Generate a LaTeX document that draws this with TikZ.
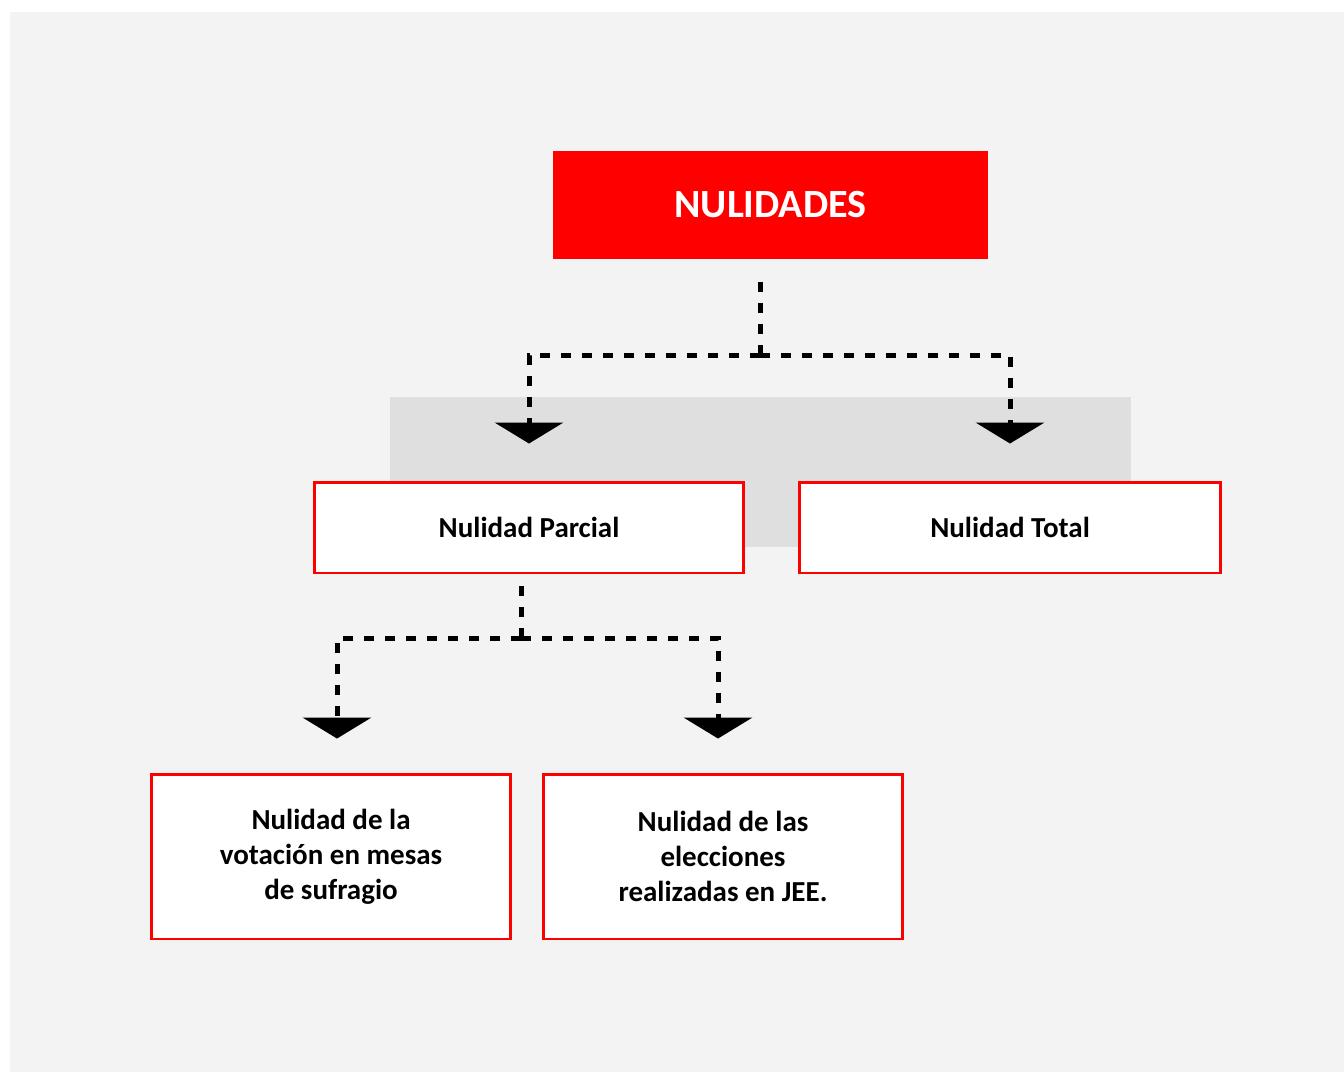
\documentclass[tikz,border=0pt]{standalone}
\usepackage{fontspec}
\setmainfont{Carlito}
\usepackage{xcolor}
\usepackage{tikz}
\usetikzlibrary{arrows.meta, positioning}
\definecolor{nulred}{HTML}{FF0000}
\definecolor{pagegray}{HTML}{F3F3F3}
\definecolor{bandgray}{HTML}{DFDFDF}
\tikzstyle{title} = [rectangle, minimum width=8.7cm, minimum height=2.16cm, text centered, fill=nulred, text=white, font=\fontsize{22.8}{27}\selectfont\bfseries]
\tikzstyle{kind} = [rectangle, minimum height=1.82cm, text centered, draw=nulred, line width=1.7pt, fill=white, font=\fontsize{16.5}{20}\selectfont\bfseries]
\tikzstyle{sub} = [kind, minimum width=7.2cm, minimum height=3.3cm, align=center]
\tikzstyle{link} = [line width=2.85pt, dash pattern=on 0.2cm off 0.22cm]
\tikzstyle{arrow} = [link, -{Triangle[width=1.36cm, length=0.42cm]}]

\begin{document}
\begin{tikzpicture}[x=0.02cm, y=-0.02cm]
    \useasboundingbox (0,0) rectangle (1344,1072);
    \fill [white] (0,0) rectangle (1344,1072);
    \fill [pagegray] (10,12) rectangle (1344,1072);
    \fill [bandgray] (390,397) rectangle (1131,547);

    \node (top) [title] at (770.5,205) {NULIDADES};
    \node (parcial) [kind, minimum width=8.6cm] at (529,527.5) {Nulidad Parcial};
    \node (total) [kind, minimum width=8.44cm] at (1010,527.5) {Nulidad Total};
    \node (mesas) [sub] at (331,856.5) {Nulidad de la\\votación en mesas\\de sufragio};
    \node (jee) [sub] at (723,856.5) {Nulidad de las\\elecciones\\realizadas en JEE.};

    \coordinate (fork1) at (760,355);
    \coordinate (fork2) at (521,638);

    \draw [link] (fork1 |- top.south) ++(0,23) -- (fork1);
    \draw [arrow] (fork1) -| ([yshift=0.74cm]parcial.north);
    \draw [arrow] (fork1) -| ([yshift=0.74cm]total.north);

    \draw [link] (fork2 |- parcial.south) ++(0,12) -- (fork2);
    \draw [arrow] (fork2) -| ([xshift=0.12cm, yshift=0.68cm]mesas.north);
    \draw [arrow] (fork2) -| ([xshift=-0.1cm, yshift=0.68cm]jee.north);
\end{tikzpicture}
\end{document}
